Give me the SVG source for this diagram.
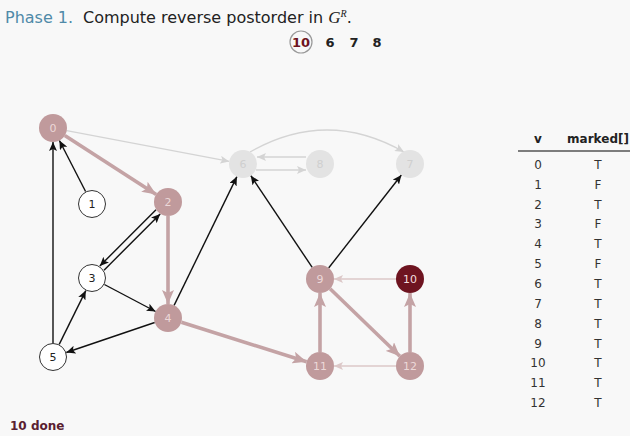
<svg xmlns="http://www.w3.org/2000/svg" width="630" height="436" viewBox="0 0 630 436">
<style>
text{font-family:"DejaVu Sans","Liberation Sans",sans-serif}
.lbl{font-size:11px;text-anchor:middle;dominant-baseline:central}
.mk circle{fill:#c09a9c}
.mk text{fill:#ecd8d8}
.gr circle{fill:#e3e3e3}
.gr text{fill:#cfcfcf}
.un circle{fill:#ffffff;stroke:#333;stroke-width:1}
.un text{fill:#222}
.blk{stroke:#111;stroke-width:1.4;fill:none;marker-end:url(#ab)}
.gry{stroke:#d4d4d4;stroke-width:1.3;fill:none;marker-end:url(#ag)}
.tre{stroke:#c4a3a5;stroke-width:3.6;fill:none;marker-end:url(#at)}
.lro{stroke:#dcc8c8;stroke-width:1.3;fill:none;marker-end:url(#al)}
.tb{font-size:12px;fill:#333;text-anchor:middle}
</style>
<defs>
<marker id="ab" markerUnits="userSpaceOnUse" markerWidth="10" markerHeight="8" refX="9" refY="4" orient="auto"><path d="M0,0 L9,4 L0,8 L2,4 Z" fill="#111"/></marker>
<marker id="ag" markerUnits="userSpaceOnUse" markerWidth="10" markerHeight="8" refX="9" refY="4" orient="auto"><path d="M0,0 L9,4 L0,8 L2,4 Z" fill="#d4d4d4"/></marker>
<marker id="al" markerUnits="userSpaceOnUse" markerWidth="10" markerHeight="8" refX="9" refY="4" orient="auto"><path d="M0,0 L9,4 L0,8 L2,4 Z" fill="#dcc8c8"/></marker>
<marker id="at" markerUnits="userSpaceOnUse" markerWidth="15" markerHeight="12" refX="14" refY="6" orient="auto"><path d="M0,0 L14,6 L0,12 L3,6 Z" fill="#c4a3a5"/></marker>
</defs>
<rect width="630" height="436" fill="#f8f8f8"/>
<text x="5" y="23" font-size="16" fill="#4f8aa8">Phase 1.</text>
<text x="83" y="23" font-size="16" fill="#222">Compute reverse postorder in <tspan font-family="Liberation Serif,serif" font-style="italic" font-size="17">G</tspan><tspan font-family="Liberation Serif,serif" font-style="italic" font-size="10" dy="-6">R</tspan><tspan dy="6">.</tspan></text>
<g id="order">
<circle cx="301" cy="42" r="11" fill="#f8f8f8" stroke="#999" stroke-width="1.2"/>
<text x="301" y="47" font-size="13" font-weight="bold" fill="#6e1420" text-anchor="middle">10</text>
<text x="330" y="47" font-size="13" font-weight="bold" fill="#222" text-anchor="middle">6</text>
<text x="354" y="47" font-size="13" font-weight="bold" fill="#222" text-anchor="middle">7</text>
<text x="377" y="47" font-size="13" font-weight="bold" fill="#222" text-anchor="middle">8</text>
</g>
<g id="connectors">
<line class="gry" x1="66.7" y1="130.6" x2="229.3" y2="161.4"/>
<line class="tre" x1="64.8" y1="135.6" x2="156.2" y2="194.4"/>
<line class="blk" x1="85.6" y1="191.5" x2="59.4" y2="140.5"/>
<line class="blk" x1="156" y1="209.8" x2="99.8" y2="266"/>
<line class="blk" x1="104" y1="270.2" x2="160.2" y2="214"/>
<line class="tre" x1="168" y1="216" x2="168" y2="304"/>
<line class="blk" x1="104.4" y1="284.5" x2="155.6" y2="311.5"/>
<line class="blk" x1="154.7" y1="322.5" x2="66.3" y2="352.5"/>
<line class="blk" x1="53" y1="343" x2="53" y2="142"/>
<line class="blk" x1="59.2" y1="344.4" x2="85.8" y2="290.6"/>
<line class="blk" x1="174.1" y1="305.4" x2="236.9" y2="176.6"/>
<line class="tre" x1="181.4" y1="322.2" x2="306.6" y2="361.8"/>
<line class="gry" x1="306" y1="157" x2="257" y2="157"/>
<line class="gry" x1="256" y1="170" x2="306" y2="170"/>
<path class="gry" d="M250,152 Q327,108 404,152"/>
<line class="blk" x1="312.2" y1="267.4" x2="250.8" y2="175.6"/>
<line class="blk" x1="328.6" y1="268" x2="401.4" y2="175"/>
<line class="tre" x1="330.1" y1="288.7" x2="399.9" y2="356.3"/>
<line class="lro" x1="396" y1="279" x2="334" y2="279"/>
<line class="tre" x1="320" y1="352" x2="320" y2="293"/>
<line class="tre" x1="410" y1="352" x2="410" y2="293"/>
<line class="lro" x1="396" y1="366" x2="334" y2="366"/>
</g>
<g id="n0" class="mk"><circle cx="53" cy="128" r="14"/><text class="lbl" x="53" y="128">0</text></g>
<g id="n1" class="un"><circle cx="92" cy="204" r="13.5"/><text class="lbl" x="92" y="204">1</text></g>
<g id="n2" class="mk"><circle cx="168" cy="202" r="14"/><text class="lbl" x="168" y="202">2</text></g>
<g id="n3" class="un"><circle cx="92" cy="278" r="13.5"/><text class="lbl" x="92" y="278">3</text></g>
<g id="n4" class="mk"><circle cx="168" cy="318" r="14"/><text class="lbl" x="168" y="318">4</text></g>
<g id="n5" class="un"><circle cx="53" cy="357" r="13.5"/><text class="lbl" x="53" y="357">5</text></g>
<g id="n6" class="gr"><circle cx="243" cy="164" r="14"/><text class="lbl" x="243" y="164">6</text></g>
<g id="n8" class="gr"><circle cx="320" cy="164" r="14"/><text class="lbl" x="320" y="164">8</text></g>
<g id="n7" class="gr"><circle cx="410" cy="164" r="14"/><text class="lbl" x="410" y="164">7</text></g>
<g id="n9" class="mk"><circle cx="320" cy="279" r="14"/><text class="lbl" x="320" y="279">9</text></g>
<g id="n10"><circle cx="410" cy="279" r="14" fill="#6e1420"/><text class="lbl" x="410" y="279" fill="#f2dede">10</text></g>
<g id="n11" class="mk"><circle cx="320" cy="366" r="14"/><text class="lbl" x="320" y="366">11</text></g>
<g id="n12" class="mk"><circle cx="410" cy="366" r="14"/><text class="lbl" x="410" y="366">12</text></g>
<g id="table">
<text x="538" y="143" font-size="12" font-weight="bold" fill="#222" text-anchor="middle">v</text>
<text x="598" y="143" font-size="12" font-weight="bold" fill="#222" text-anchor="middle">marked[]</text>
<line x1="518" y1="151" x2="630" y2="151" stroke="#555" stroke-width="1.5"/>
<text class="tb" x="538" y="169">0</text><text class="tb" x="598" y="169">T</text>
<text class="tb" x="538" y="189">1</text><text class="tb" x="598" y="189">F</text>
<text class="tb" x="538" y="209">2</text><text class="tb" x="598" y="209">T</text>
<text class="tb" x="538" y="228">3</text><text class="tb" x="598" y="228">F</text>
<text class="tb" x="538" y="248">4</text><text class="tb" x="598" y="248">T</text>
<text class="tb" x="538" y="268">5</text><text class="tb" x="598" y="268">F</text>
<text class="tb" x="538" y="288">6</text><text class="tb" x="598" y="288">T</text>
<text class="tb" x="538" y="308">7</text><text class="tb" x="598" y="308">T</text>
<text class="tb" x="538" y="328">8</text><text class="tb" x="598" y="328">T</text>
<text class="tb" x="538" y="348">9</text><text class="tb" x="598" y="348">T</text>
<text class="tb" x="538" y="367">10</text><text class="tb" x="598" y="367">T</text>
<text class="tb" x="538" y="387">11</text><text class="tb" x="598" y="387">T</text>
<text class="tb" x="538" y="407">12</text><text class="tb" x="598" y="407">T</text>
</g>
<text x="10" y="430" font-size="12" font-weight="bold" fill="#5a2030">10 done</text>
</svg>
